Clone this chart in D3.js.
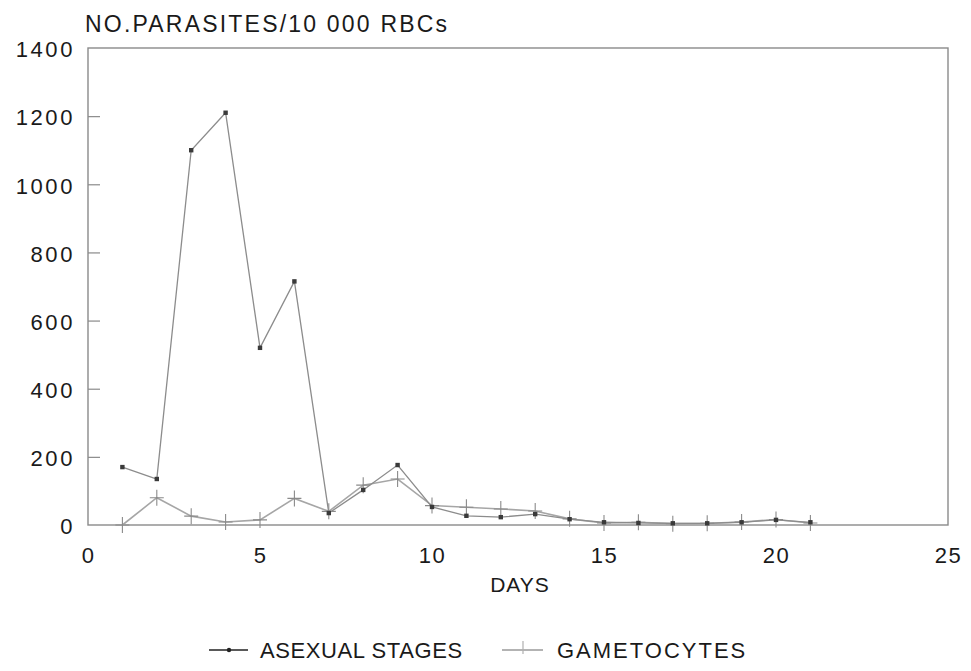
<!DOCTYPE html>
<html>
<head>
<meta charset="utf-8">
<script src="https://cdn.jsdelivr.net/npm/d3@7"></script>
<style>
  html, body { margin: 0; padding: 0; background: #fff; }
  svg { display: block; font-family: "Liberation Sans", Arial, Helvetica, sans-serif; }
</style>
</head>
<body>
<svg id="chart" width="971" height="671"></svg>
<script>
// Parasite counts per 10 000 red blood cells, by day of infection
const days = [1, 2, 3, 4, 5, 6, 7, 8, 9, 10, 11, 12, 13, 14, 15, 16, 17, 18, 19, 20, 21];
const asexual = [170, 135, 1100, 1210, 520, 715, 35, 103, 176, 53, 27, 23, 32, 17, 8, 6, 5, 5, 8, 15, 8];
const gametocytes = [0, 80, 26, 9, 15, 78, 40, 117, 135, 57, 52, 47, 41, 18, 6, 8, 4, 5, 9, 16, 6];

const xTicks = [0, 5, 10, 15, 20, 25];
const yTicks = [0, 200, 400, 600, 800, 1000, 1200, 1400];
const seriesNames = ["ASEXUAL STAGES", "GAMETOCYTES"];

const svg = d3.select("#chart");
const plotLeft = 88, plotRight = 948, plotTop = 48, plotBottom = 525;

const x = d3.scaleLinear().domain([0, 25]).range([plotLeft, plotRight]);
const y = d3.scaleLinear().domain([0, 1400]).range([plotBottom, plotTop]);

const frameColor = "#8a8a8a";
const textColor = "#1a1a1a";

// Plot frame
svg.append("rect")
  .attr("x", plotLeft).attr("y", plotTop)
  .attr("width", plotRight - plotLeft).attr("height", plotBottom - plotTop)
  .attr("fill", "none").attr("stroke", frameColor).attr("stroke-width", 1.4);

// Y axis: inward ticks, labels on the left
const yAxis = svg.append("g")
  .attr("transform", `translate(${plotLeft},0)`)
  .call(d3.axisLeft(y).tickValues(yTicks).tickSize(-12).tickPadding(13).tickFormat(d3.format("d")));
yAxis.select(".domain").remove();
yAxis.selectAll(".tick line")
  .attr("stroke", frameColor).attr("stroke-width", 1.2)
  .filter(d => d === 0 || d === 1400).remove();
yAxis.selectAll(".tick text")
  .attr("fill", textColor).attr("font-size", 22)
  .attr("letter-spacing", 2.6).attr("dy", "0.4em");

// X axis: labels only
const xAxis = svg.append("g")
  .attr("transform", `translate(0,${plotBottom})`)
  .call(d3.axisBottom(x).tickValues(xTicks).tickSize(0).tickPadding(22).tickFormat(d3.format("d")));
xAxis.select(".domain").remove();
xAxis.selectAll(".tick text")
  .attr("fill", textColor).attr("font-size", 22).attr("letter-spacing", 1.5);

// Axis titles
svg.append("text")
  .attr("x", 85).attr("y", 32)
  .attr("font-size", 23).attr("letter-spacing", 2.2)
  .attr("fill", textColor)
  .text("NO.PARASITES/10 000 RBCs");

svg.append("text")
  .attr("x", x(12.5) + 2).attr("y", 592)
  .attr("text-anchor", "middle")
  .attr("font-size", 21).attr("letter-spacing", 1)
  .attr("fill", textColor)
  .text("DAYS");

// Series lines
const line = d3.line().x(d => x(d[0])).y(d => y(d[1]));
const asexualPts = days.map((d, i) => [d, asexual[i]]);
const gametPts = days.map((d, i) => [d, gametocytes[i]]);

svg.append("path")
  .datum(gametPts)
  .attr("d", line)
  .attr("fill", "none").attr("stroke", "#a6a6a6").attr("stroke-width", 1.6);

svg.append("path")
  .datum(asexualPts)
  .attr("d", line)
  .attr("fill", "none").attr("stroke", "#8c8c8c").attr("stroke-width", 1.3);

// Gametocyte markers: plus signs
svg.append("g").selectAll("path")
  .data(gametPts)
  .join("path")
  .attr("d", d => {
    const cx = x(d[0]), cy = y(d[1]);
    return `M${cx - 7},${cy}H${cx + 7}M${cx},${cy - 8}V${cy + 8}`;
  })
  .attr("stroke", "#8a8a8a").attr("stroke-width", 1.1).attr("fill", "none");

// Asexual markers: small filled squares
svg.append("g").selectAll("rect")
  .data(asexualPts)
  .join("rect")
  .attr("x", d => x(d[0]) - 2.2).attr("y", d => y(d[1]) - 2.2)
  .attr("width", 4.4).attr("height", 4.4)
  .attr("fill", "#3a3a3a");

// Legend
const legendY = 650;
const lg = svg.append("g");
lg.append("line").attr("x1", 209).attr("x2", 248).attr("y1", legendY).attr("y2", legendY)
  .attr("stroke", "#222").attr("stroke-width", 1.4);
lg.append("circle").attr("cx", 229).attr("cy", legendY).attr("r", 2.2).attr("fill", "#222");
lg.append("text").attr("x", 260).attr("y", legendY + 8)
  .attr("font-size", 22).attr("letter-spacing", 0.6).attr("fill", textColor)
  .text(seriesNames[0]);

lg.append("line").attr("x1", 502).attr("x2", 543).attr("y1", legendY).attr("y2", legendY)
  .attr("stroke", "#9a9a9a").attr("stroke-width", 1.4);
lg.append("path").attr("d", `M523,${legendY - 9}V${legendY + 4}`)
  .attr("stroke", "#b0b0b0").attr("stroke-width", 1.2);
lg.append("text").attr("x", 557).attr("y", legendY + 8)
  .attr("font-size", 22).attr("letter-spacing", 2).attr("fill", textColor)
  .text(seriesNames[1]);
</script>
</body>
</html>
